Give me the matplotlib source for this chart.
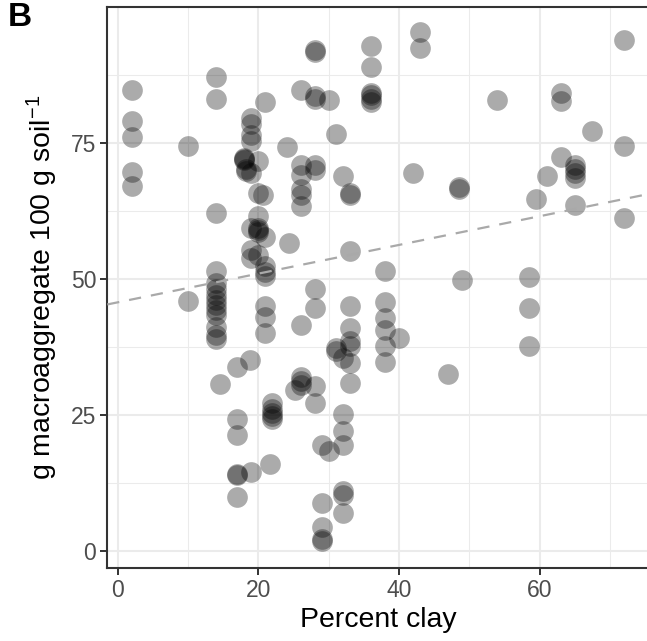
import matplotlib
matplotlib.use("Agg")
import matplotlib.pyplot as plt
import numpy as np

plt.rcParams['font.family'] = ['Liberation Sans', 'DejaVu Sans']
plt.rcParams['mathtext.fontset'] = 'custom'
plt.rcParams['mathtext.rm'] = 'Liberation Sans'
plt.rcParams['mathtext.it'] = 'Liberation Sans:italic'

# ---- data ----
clay_groups = [2, 10, 14, 14.6, 17, 18, 18.3, 18.8, 19, 20, 20.6, 21, 21.7, 22,
               24, 24.4, 25.2, 26, 28, 29, 30, 31, 32, 33, 36, 38, 40, 42, 43,
               47, 48.5, 49, 54, 58.5, 59.5, 61, 63, 65, 67.5, 72]
macro_groups = [
    [84.8, 79.0, 76.2, 69.6, 67.1],
    [74.4, 46.0],
    [87.1, 83.1, 62.1, 51.4, 49.2, 48.2, 47.0, 46.1, 45.2, 44.3, 43.4, 41.2, 39.7, 39.0],
    [30.6],
    [33.8, 24.3, 21.3, 14.1, 14.0, 9.8],
    [72.3, 72.1, 71.9],
    [70.2, 69.9],
    [35.0],
    [79.6, 78.6, 76.5, 75.3, 69.5, 59.4, 55.4, 53.8, 14.5],
    [71.7, 65.8, 61.5, 59.4, 59.0, 58.7, 54.4],
    [65.5],
    [82.5, 57.8, 52.3, 51.3, 50.5, 45.0, 43.0, 40.1],
    [16.0],
    [27.1, 26.0, 25.3, 24.7, 24.2],
    [74.2],
    [56.6],
    [29.6],
    [84.8, 70.9, 69.2, 66.5, 65.5, 63.5, 41.5, 32.0, 31.2, 30.5],
    [92.2, 91.8, 83.6, 83.2, 70.9, 70.1, 48.2, 44.6, 30.3, 27.1],
    [19.5, 8.8, 4.4, 2.1, 1.7],
    [83.0, 18.4],
    [76.7, 37.3, 36.8],
    [68.9, 35.4, 25.1, 22.0, 19.5, 10.9, 10.3, 7.0],
    [65.9, 65.5, 55.2, 45.0, 40.9, 38.5, 37.6, 34.5, 30.8],
    [92.9, 89.1, 84.3, 83.8, 83.2, 82.6],
    [51.4, 45.8, 42.8, 40.6, 37.6, 34.8],
    [39.1],
    [69.5],
    [95.4, 92.6],
    [32.5],
    [66.9, 66.5],
    [49.8],
    [83.0],
    [50.3, 44.6, 37.7],
    [64.7],
    [69.0],
    [84.3, 82.7, 72.4],
    [71.0, 70.3, 69.5, 68.6, 63.6],
    [77.3],
    [94.0, 74.5, 61.2],
]
fit_intercept = 45.7
fit_slope = 0.264

x_ticks = [0, 20, 40, 60]
y_ticks = [0, 25, 50, 75]
x_label = "Percent clay"
y_label = r"g macroaggregate 100 g soil$^{-1}$"
panel_tag = "B"

clay = []
macro = []
for cx, ys in zip(clay_groups, macro_groups):
    for yv in ys:
        clay.append(cx)
        macro.append(yv)
clay = np.array(clay)
macro = np.array(macro)

# ---- figure ----
W, H = 647, 641
fig = plt.figure(figsize=(W / 100, H / 100), dpi=100)
left, right = 107.3 / W, 648.5 / W
bottom, top = (H - 567.7) / H, (H - 7.3) / H
ax = fig.add_axes([left, bottom, right - left, top - bottom])

xlim = (-1.5, 75.5)
ylim = (-3.15, 100.0)
ax.set_xlim(*xlim)
ax.set_ylim(*ylim)

ax.set_xticks(x_ticks)
ax.set_yticks(y_ticks)
ax.set_xticks([10, 30, 50, 70], minor=True)
ax.set_yticks([12.5, 37.5, 62.5, 87.5], minor=True)
ax.grid(which='major', color='#EBEBEB', linewidth=1.5, zorder=0)
ax.grid(which='minor', color='#EBEBEB', linewidth=0.75, zorder=0)
ax.set_axisbelow(True)
ax.tick_params(which='minor', length=0)
ax.tick_params(which='major', length=5, width=1.4, color='#333333',
               labelcolor='#4D4D4D', labelsize=16.5, pad=3)

for s in ['left', 'bottom', 'top', 'right']:
    ax.spines[s].set_color('#333333')
    ax.spines[s].set_linewidth(1.5)

ax.scatter(clay, macro, s=222, color='black', alpha=0.33, linewidths=0, zorder=3)

xs = np.array(xlim)
ax.plot(xs, fit_intercept + fit_slope * xs, color='#A9A9A9', lw=1.6,
        dashes=(5.5, 4.5), zorder=4)

ax.set_xlabel(x_label, fontsize=20.5, labelpad=4)
ax.set_ylabel(y_label, fontsize=20.5, labelpad=8)

fig.text(8 / W, 1 - 2 / H, panel_tag, ha='left', va='top', fontsize=24,
         fontweight='bold')

fig.savefig("out.png", dpi=100)
